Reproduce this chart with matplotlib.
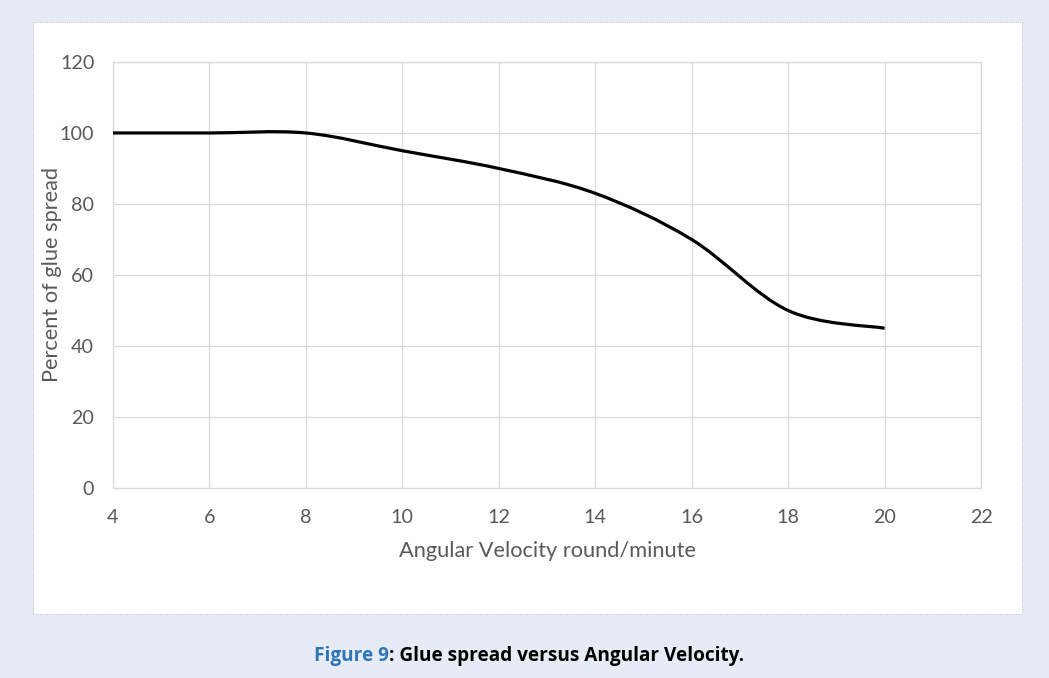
import numpy as np
import matplotlib.pyplot as plt
from matplotlib.path import Path
from matplotlib.patches import PathPatch, Rectangle

# Values
velocity = [4, 6, 8, 10, 12, 14, 16, 18, 20]
spread = [100, 100, 100, 95, 90, 83, 70, 50, 45]
x_ticks = [4, 6, 8, 10, 12, 14, 16, 18, 20, 22]
y_ticks = [0, 20, 40, 60, 80, 100, 120]

grey = '#595959'
grid_col = '#d9d9d9'


# Excel style smoothed line: cubic Bezier between the data points
def smooth_path(xs, ys):
    pts = np.column_stack([xs, ys]).astype(float)
    n = len(pts)
    verts = [pts[0]]
    codes = [Path.MOVETO]
    for i in range(n - 1):
        p0 = pts[max(i - 1, 0)]
        p1 = pts[i]
        p2 = pts[i + 1]
        p3 = pts[min(i + 2, n - 1)]
        verts += [p1 + (p2 - p0) / 6, p2 - (p3 - p1) / 6, p2]
        codes += [Path.CURVE4] * 3
    return Path(verts, codes)


fig = plt.figure(figsize=(10.49, 6.78), dpi=100)
fig.patch.set_facecolor('#e7ebf6')

# white chart panel
fig.patches.append(Rectangle((0.0315, 0.0944), 0.9428, 0.8732, transform=fig.transFigure,
                             facecolor='white', edgecolor='#c8c8c8', linewidth=0.8,
                             linestyle=(0, (1, 1)), zorder=-5))

ax = fig.add_axes([0.1077, 0.2802, 0.8275, 0.6284])
ax.set_zorder(2)
ax.set_facecolor('white')
ax.set_xlim(4, 22)
ax.set_ylim(0, 120)
ax.set_xticks(x_ticks)
ax.set_yticks(y_ticks)
ax.grid(True, color=grid_col, linewidth=0.9)
ax.set_axisbelow(True)
for s in ax.spines.values():
    s.set_color(grid_col)
    s.set_linewidth(0.9)
ax.tick_params(length=0, labelcolor=grey, labelsize=14.2)
ax.tick_params(axis='x', pad=15)
ax.tick_params(axis='y', pad=13.5)
for lab in ax.get_xticklabels() + ax.get_yticklabels():
    lab.set_family('Lato')

ax.add_patch(PathPatch(smooth_path(velocity, spread), facecolor='none',
                       edgecolor='black', linewidth=2.3, capstyle='butt', zorder=3))

ax.set_xlabel('Angular Velocity round/minute', color=grey, fontsize=15.7, family='Lato')
ax.set_ylabel('Percent of glue spread', color=grey, fontsize=15.7, family='Lato')
ax.xaxis.set_label_coords(0.5, -0.124)
ax.yaxis.set_label_coords(-0.059, 0.5)

# caption under the chart, the two parts placed side by side and centred
cap_size = 13.7
cap_y = 0.025
t1 = fig.text(0, cap_y, 'Figure 9', color='#2e75b6', fontsize=cap_size,
              fontweight='bold', family='Open Sans', va='baseline')
t2 = fig.text(0, cap_y, ': Glue spread versus Angular Velocity.', color='black',
              fontsize=cap_size, fontweight='bold', family='Open Sans', va='baseline')
fig.canvas.draw()
w1 = t1.get_window_extent().width / fig.bbox.width
w2 = t2.get_window_extent().width / fig.bbox.width
start = 529 / 1049 - (w1 + w2) / 2
t1.set_x(start)
t2.set_x(start + w1)

fig.savefig('out.png', dpi=100, facecolor=fig.get_facecolor())
